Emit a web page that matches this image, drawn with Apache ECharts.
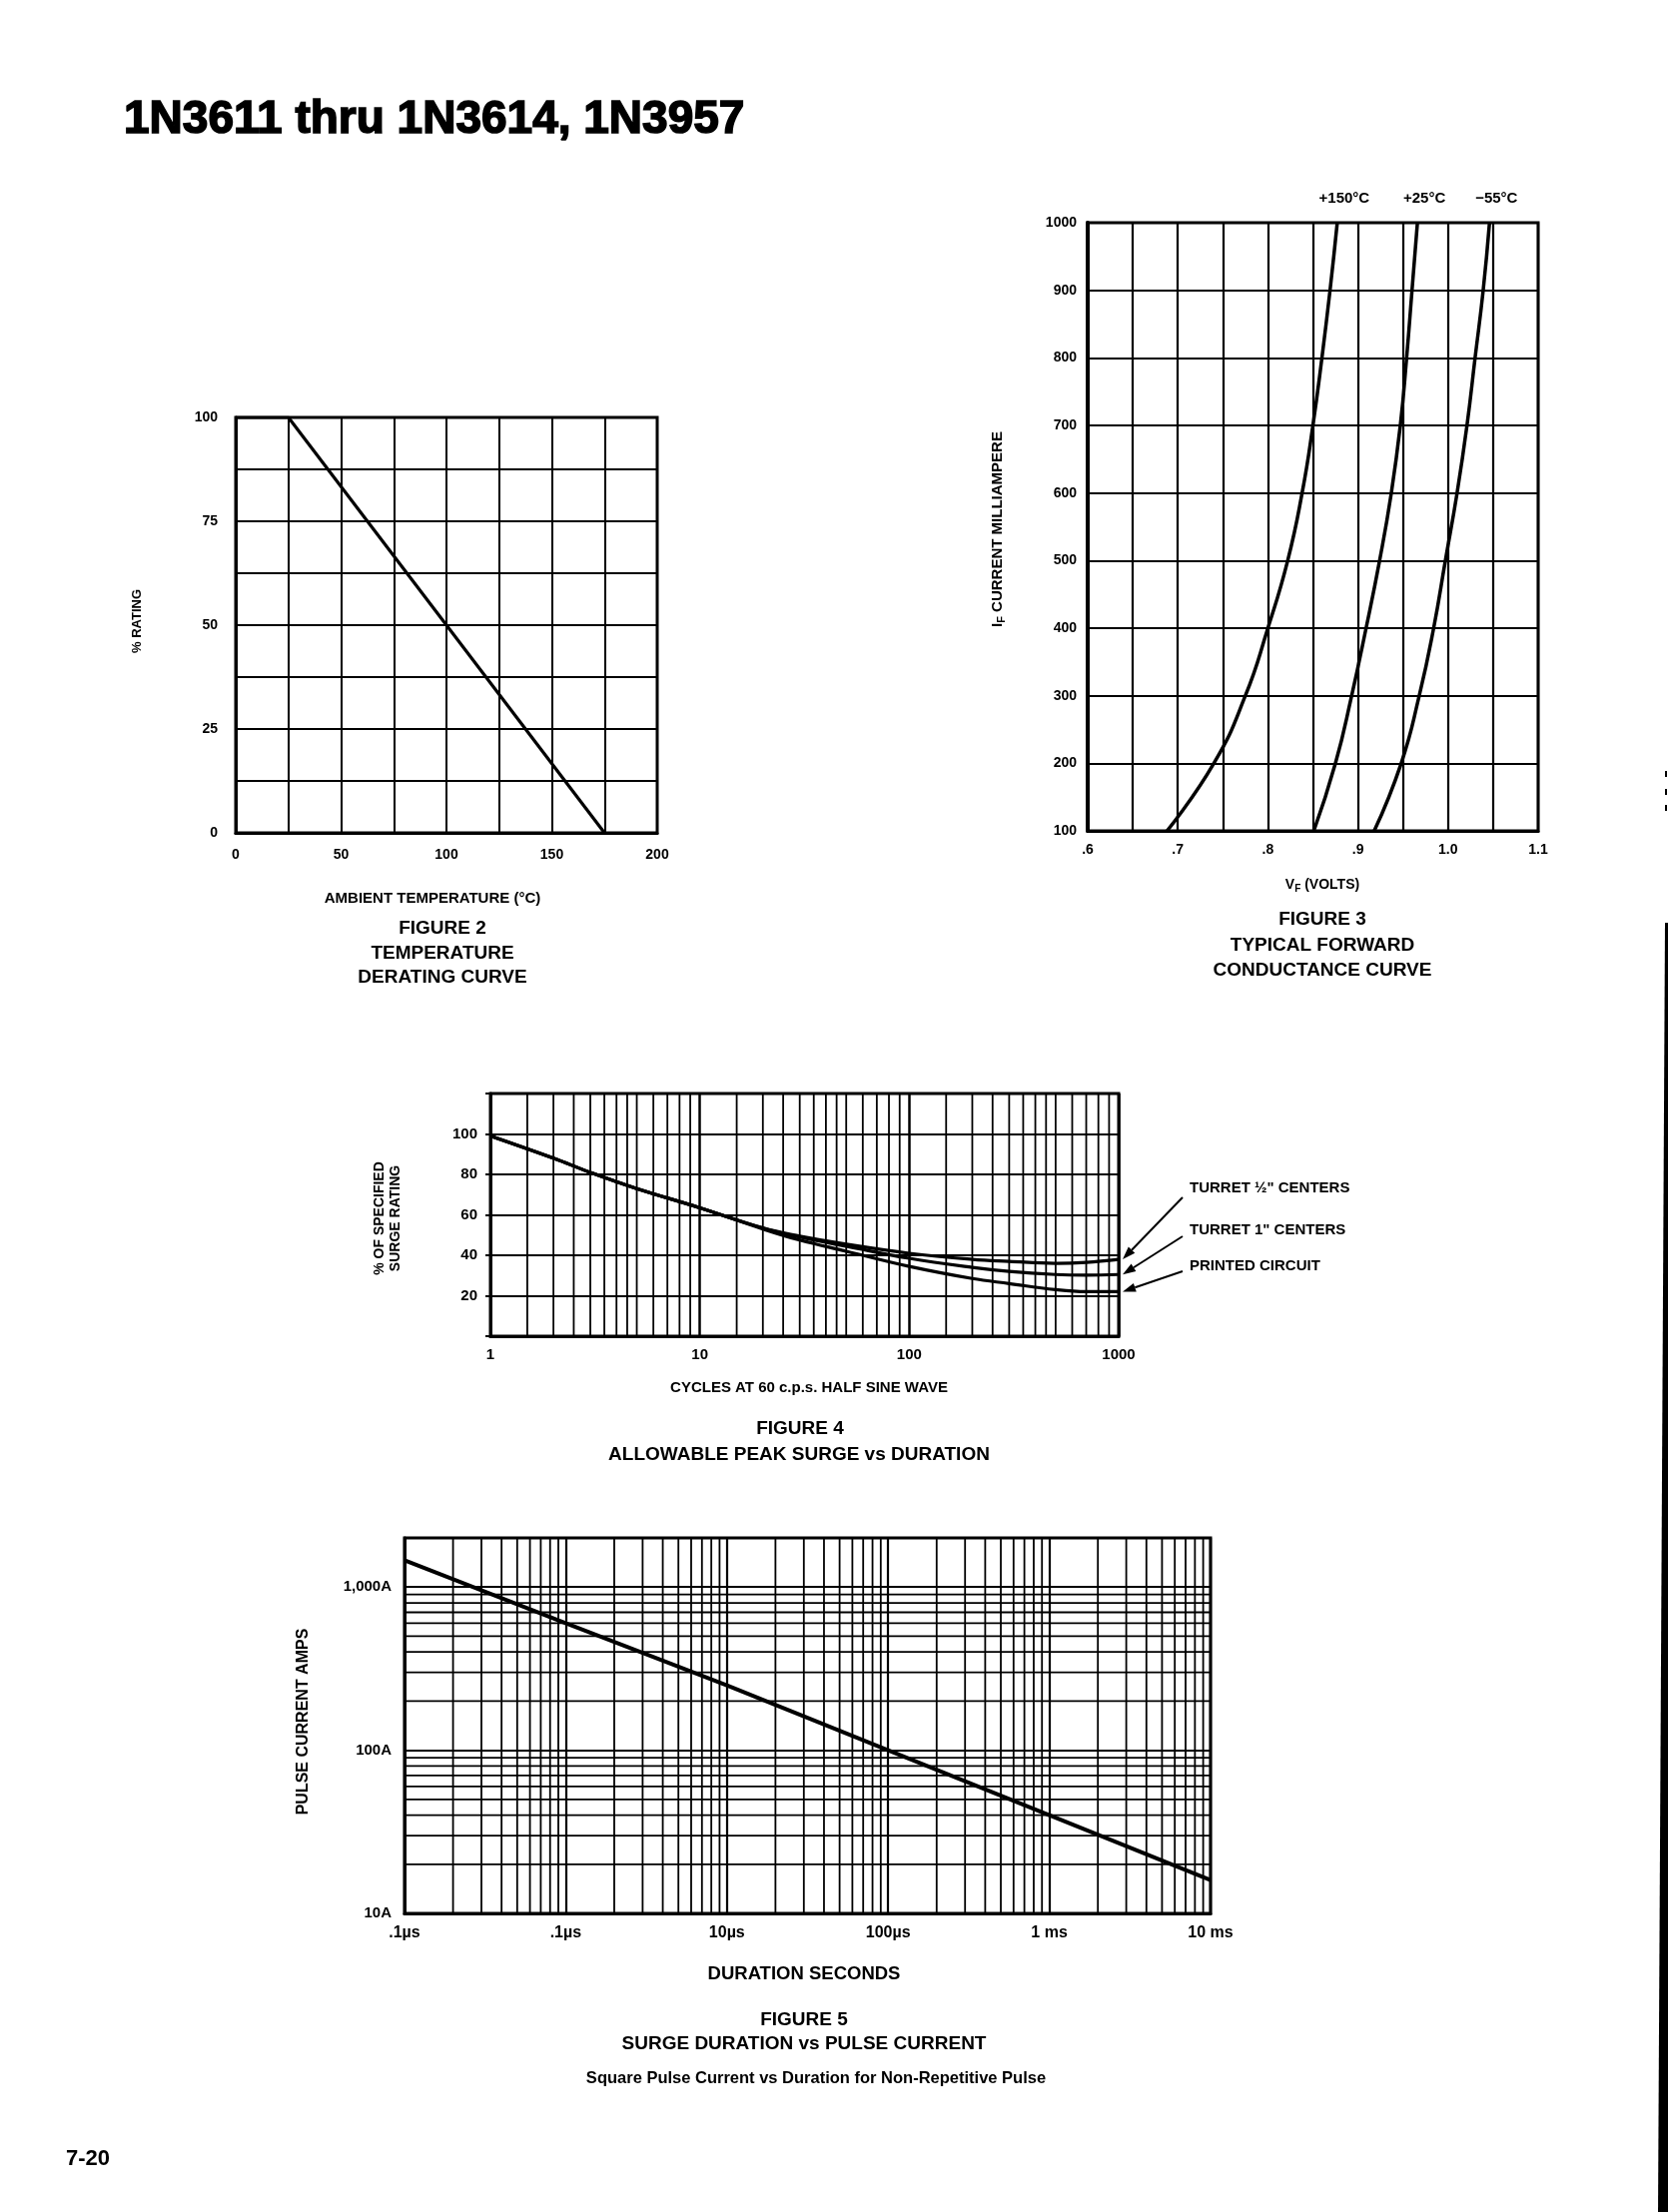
<!DOCTYPE html>
<html><head><meta charset="utf-8">
<script src="https://cdn.jsdelivr.net/npm/echarts@6/dist/echarts.min.js"></script>
<style>html,body{margin:0;padding:0;background:#fff;}#c{width:1670px;height:2215px;}</style>
</head><body><div id="c"></div>
<script>
// ---------------- DATA ----------------
// Figure 2 – temperature derating
const fig2Temp = [0, 25, 175];
const fig2Rating = [100, 100, 0];
const fig2XTicks = [0, 50, 100, 150, 200];
const fig2YTicks = [0, 25, 50, 75, 100];

// Figure 3 – forward conductance (I_F mA vs V_F volts)
const fig3Current = [100, 200, 300, 400, 500, 600, 700, 800, 900, 1000];
const fig3Vf150 = [0.688, 0.740, 0.775, 0.800, 0.822, 0.838, 0.850, 0.860, 0.869, 0.877];
const fig3Vf25  = [0.851, 0.875, 0.893, 0.909, 0.924, 0.937, 0.947, 0.954, 0.960, 0.966];
const fig3VfM55 = [0.918, 0.948, 0.968, 0.984, 0.997, 1.010, 1.021, 1.030, 1.039, 1.046];
const fig3Names = ['+150°C', '+25°C', '\u221255°C'];
const fig3XTicks = [0.6, 0.7, 0.8, 0.9, 1.0, 1.1];
const fig3XTickLabels = ['.6', '.7', '.8', '.9', '1.0', '1.1'];
const fig3YTicks = [100, 200, 300, 400, 500, 600, 700, 800, 900, 1000];

// Figure 4 – allowable peak surge vs duration
const fig4Cycles      = [1, 2, 3, 5, 10, 20, 30, 50, 100, 200, 300, 500, 700, 1000];
const fig4TurretHalf  = [99, 88, 81, 73, 63.5, 53.5, 49.5, 45.5, 41, 38, 37, 36, 36.5, 38];
const fig4TurretOne   = [99, 88, 81, 73, 63.5, 53.5, 49, 44.5, 38.5, 34, 32, 30.5, 30.2, 30.5];
const fig4Printed     = [99, 88, 81, 73, 63.5, 53, 47.5, 42, 34.5, 28.5, 26, 23, 22, 22];
const fig4Names = ['TURRET \u00BD" CENTERS', 'TURRET 1" CENTERS', 'PRINTED CIRCUIT'];
const fig4XTicks = [1, 10, 100, 1000];
const fig4YTicks = [20, 40, 60, 80, 100];
const fig4XRange = [1, 1000];
const fig4YRange = [0, 120];
const fig4MinorMult = [1.5, 2, 2.5, 3, 3.5, 4, 4.5, 5, 6, 7, 8, 9];
const fig4Decades = [1, 10, 100];

// Figure 5 – surge duration vs pulse current
const fig5Duration = [1e-7, 1e-6, 1e-5, 1e-4, 1e-3, 1e-2];
const fig5Current  = [1460, 600, 250, 100, 40, 16];
const fig5XTicks = [1e-7, 1e-6, 1e-5, 1e-4, 1e-3, 1e-2];
const fig5XTickLabels = ['.1\u00B5s', '.1\u00B5s', '10\u00B5s', '100\u00B5s', '1 ms', '10 ms'];
const fig5YTicks = [10, 100, 1000];
const fig5YTickLabels = ['10A', '100A', '1,000A'];
const fig5XRange = [1e-7, 1e-2];
const fig5YRange = [10, 2000];
const fig5MinorMult = [2, 3, 4, 5, 6, 7, 8, 9];
const fig5XDecades = [1e-7, 1e-6, 1e-5, 1e-4, 1e-3];
const fig5YDecades = [10, 100];

// ---------------- HELPERS ----------------
const FONT = '"Liberation Sans", Arial, Helvetica, sans-serif';
const BLACK = '#000';
const zip = (xs, ys) => xs.map((x, i) => [x, ys[i]]);
const near = (a, b) => Math.abs(a - b) < 1e-6 * Math.max(1, Math.abs(b));
const logNear = (a, b) => Math.abs(Math.log10(a) - Math.log10(b)) < 1e-6;
const pickLabel = (ticks, labels, cmp) => v => {
  for (let i = 0; i < ticks.length; i++) if (cmp(v, ticks[i])) return labels ? labels[i] : String(ticks[i]);
  return '';
};
const axisLine = w => ({show: true, lineStyle: {color: BLACK, width: w}});
const split = w => ({show: true, lineStyle: {color: BLACK, width: w, type: 'solid'}});
const lab = (size, margin, fmt) => ({show: true, color: BLACK, fontSize: size, fontWeight: 'bold',
  fontFamily: FONT, margin: margin, formatter: fmt, showMinLabel: true, showMaxLabel: true, hideOverlap: false});
const noTick = {show: false};
const gridBox = (l, t, w, h) => ({left: l, top: t, width: w, height: h, show: true,
  borderColor: BLACK, borderWidth: 3, backgroundColor: 'rgba(0,0,0,0)', containLabel: false});
const lineSeries = (xi, data, w, smooth, extra) => Object.assign({
  type: 'line', xAxisIndex: xi, yAxisIndex: xi, data: data, symbol: 'none', smooth: smooth,
  lineStyle: {color: BLACK, width: w}, itemStyle: {color: BLACK}, silent: true,
  emphasis: {disabled: true}, animation: false, clip: true, z: 5
}, extra || {});
// minor (log-paper) grid lines, drawn as two-point series through the axes' own scales
const minorValues = (mults, decades) => {
  const out = [];
  decades.forEach(d => mults.forEach(m => out.push(m * d)));
  return out;
};
const vLines = (xi, values, yRange, w) => values.map(v =>
  lineSeries(xi, [[v, yRange[0]], [v, yRange[1]]], w, false, {z: 1}));
const hLines = (xi, values, xRange, w) => values.map(v =>
  lineSeries(xi, [[xRange[0], v], [xRange[1], v]], w, false, {z: 1}));

// ---------------- OPTION ----------------
const option = {
  animation: false,
  backgroundColor: '#fff',
  grid: [
    gridBox(236, 418, 422, 416),
    gridBox(1089, 223, 451, 609),
    gridBox(491, 1095, 629, 243),
    gridBox(405, 1540, 807, 376)
  ],
  xAxis: [
    {gridIndex: 0, type: 'value', min: 0, max: 200, interval: 25, axisLine: axisLine(3), axisTick: noTick,
     splitLine: split(2), axisLabel: lab(14, 15, pickLabel(fig2XTicks, null, near))},
    {gridIndex: 1, type: 'value', min: 0.6, max: 1.1, interval: 0.05, axisLine: axisLine(3), axisTick: noTick,
     splitLine: split(2.2), axisLabel: lab(14, 12, pickLabel(fig3XTicks, fig3XTickLabels, near))},
    {gridIndex: 2, type: 'log', logBase: 10, min: fig4XRange[0], max: fig4XRange[1], axisLine: axisLine(3), axisTick: noTick,
     splitLine: split(2.5), axisLabel: lab(15, 11, pickLabel(fig4XTicks, null, logNear))},
    {gridIndex: 3, type: 'log', logBase: 10, min: fig5XRange[0], max: fig5XRange[1], axisLine: axisLine(3), axisTick: noTick,
     splitLine: split(2.2), axisLabel: lab(16, 12, pickLabel(fig5XTicks, fig5XTickLabels, logNear))}
  ],
  yAxis: [
    {gridIndex: 0, type: 'value', min: 0, max: 100, interval: 12.5, axisLine: axisLine(3), axisTick: noTick,
     splitLine: split(2), axisLabel: lab(14, 18, pickLabel(fig2YTicks, null, near))},
    {gridIndex: 1, type: 'value', min: 100, max: 1000, interval: 100, axisLine: axisLine(4), axisTick: noTick,
     splitLine: split(2.2), axisLabel: lab(14, 11, pickLabel(fig3YTicks, null, near))},
    {gridIndex: 2, type: 'value', min: fig4YRange[0], max: fig4YRange[1], interval: 20, axisLine: axisLine(3),
     axisTick: {show: true, length: 5, lineStyle: {color: BLACK, width: 2}},
     splitLine: split(2.2), axisLabel: lab(15, 13, pickLabel(fig4YTicks, null, near))},
    {gridIndex: 3, type: 'log', logBase: 10, min: fig5YRange[0], max: fig5YRange[1], axisLine: axisLine(3), axisTick: noTick,
     splitLine: split(2.2), axisLabel: lab(15, 13, pickLabel(fig5YTicks, fig5YTickLabels, logNear))}
  ],
  series: [
    lineSeries(0, zip(fig2Temp, fig2Rating), 3.2, false),
    lineSeries(1, zip(fig3Vf150, fig3Current), 3.5, true, {name: fig3Names[0]}),
    lineSeries(1, zip(fig3Vf25, fig3Current), 3.5, true, {name: fig3Names[1]}),
    lineSeries(1, zip(fig3VfM55, fig3Current), 3.5, true, {name: fig3Names[2]}),
    lineSeries(2, zip(fig4Cycles, fig4TurretHalf), 3.2, 0.4, {name: fig4Names[0]}),
    lineSeries(2, zip(fig4Cycles, fig4TurretOne), 3.2, 0.4, {name: fig4Names[1]}),
    lineSeries(2, zip(fig4Cycles, fig4Printed), 3.2, 0.4, {name: fig4Names[2]}),
    lineSeries(3, zip(fig5Duration, fig5Current), 4, false)
  ]
    .concat(vLines(2, minorValues(fig4MinorMult, fig4Decades), fig4YRange, 1.8))
    .concat(vLines(3, minorValues(fig5MinorMult, fig5XDecades), fig5YRange, 1.8))
    .concat(hLines(3, minorValues(fig5MinorMult, fig5YDecades), fig5XRange, 1.8))
};

const chart = echarts.init(document.getElementById('c'), null, {renderer: 'canvas', width: 1670, height: 2215});
chart.setOption(option);

// ---------------- TEXT & ANNOTATIONS ----------------
function T(x, y, text, size, o) {
  o = o || {};
  const align = o.align || 'center';
  const el = {type: 'text', x: x, y: y, rotation: o.rot || 0, silent: true, z: 20,
    style: {text: text, fill: BLACK, font: (o.weight || 'bold') + ' ' + size + 'px ' + FONT,
      align: align, verticalAlign: 'middle', textAlign: align, textVerticalAlign: 'middle'}};
  if (o.lh) el.style.lineHeight = o.lh;
  if (o.rich) el.style.rich = o.rich;
  if (o.stroke) { el.style.stroke = BLACK; el.style.lineWidth = o.stroke; }
  return el;
}
function arrow(x1, y1, x2, y2) {
  const a = Math.atan2(y2 - y1, x2 - x1), L = 13, W = 4.5;
  const bx = x2 - L * Math.cos(a), by = y2 - L * Math.sin(a);
  return [
    {type: 'line', silent: true, z: 20, shape: {x1: x1, y1: y1, x2: bx, y2: by}, style: {stroke: BLACK, lineWidth: 2}},
    {type: 'polygon', silent: true, z: 20, shape: {points: [[x2, y2],
      [bx + W * Math.sin(a), by - W * Math.cos(a)], [bx - W * Math.sin(a), by + W * Math.cos(a)]]},
      style: {fill: BLACK}}
  ];
}
const subRich = (big) => ({
  a: {fontSize: big, fontWeight: 'bold', fontFamily: FONT, lineHeight: big + 4},
  b: {fontSize: big - 4, fontWeight: 'bold', fontFamily: FONT, lineHeight: big - 4, verticalAlign: 'bottom'}
});

const els = [];
// page title
els.push(T(124, 120, '1N3611 thru 1N3614, 1N3957', 46, {align: 'left', stroke: 1.6}));
// Figure 2
els.push(T(137, 622, '% RATING', 13, {rot: Math.PI / 2}));
els.push(T(433, 900, 'AMBIENT TEMPERATURE (°C)', 15));
els.push(T(443, 930, 'FIGURE 2', 19));
els.push(T(443, 955, 'TEMPERATURE', 19));
els.push(T(443, 979, 'DERATING CURVE', 19));
// Figure 3
els.push(T(999, 530, '{a|I}{b|F}{a| CURRENT MILLIAMPERE}', 15, {rot: Math.PI / 2, rich: subRich(15)}));
els.push(T(1324, 886, '{a|V}{b|F}{a| (VOLTS)}', 14, {rich: subRich(14)}));
els.push(T(1324, 921, 'FIGURE 3', 19));
els.push(T(1324, 947, 'TYPICAL FORWARD', 19));
els.push(T(1324, 972, 'CONDUCTANCE CURVE', 19));
[fig3Vf150, fig3Vf25, fig3VfM55].forEach((vf, i) => {
  const p = chart.convertToPixel({xAxisIndex: 1, yAxisIndex: 1}, [vf[vf.length - 1], fig3Current[fig3Current.length - 1]]);
  els.push(T(p[0] + 7, p[1] - 24, fig3Names[i], 15));
});
// Figure 4
els.push(T(388, 1220, '% OF SPECIFIED\nSURGE RATING', 14, {rot: Math.PI / 2, lh: 16}));
els.push(T(810, 1390, 'CYCLES AT 60 c.p.s. HALF SINE WAVE', 15));
els.push(T(801, 1431, 'FIGURE 4', 19));
els.push(T(800, 1457, 'ALLOWABLE PEAK SURGE vs DURATION', 19));
const fig4LabelY = [1190, 1232, 1268];
const fig4ArrowDy = [9, 6, 5];
[fig4TurretHalf, fig4TurretOne, fig4Printed].forEach((vals, i) => {
  els.push(T(1191, fig4LabelY[i], fig4Names[i], 15, {align: 'left'}));
  const p = chart.convertToPixel({xAxisIndex: 2, yAxisIndex: 2}, [fig4Cycles[fig4Cycles.length - 1], vals[vals.length - 1]]);
  arrow(1184, fig4LabelY[i] + fig4ArrowDy[i], p[0] + 4, p[1]).forEach(e => els.push(e));
});
// Figure 5
els.push(T(304, 1724, 'PULSE CURRENT AMPS', 16, {rot: Math.PI / 2}));
els.push(T(805, 1977, 'DURATION SECONDS', 18.5));
els.push(T(805, 2023, 'FIGURE 5', 19));
els.push(T(805, 2047, 'SURGE DURATION vs PULSE CURRENT', 19));
els.push(T(817, 2081, 'Square Pulse Current vs Duration for Non-Repetitive Pulse', 16.5));
// page number
els.push(T(66, 2162, '7-20', 22, {align: 'left'}));
// scan edge at right margin
els.push({type: 'polygon', silent: true, z: 20, shape: {points: [[1667, 924], [1670, 924], [1670, 2215], [1660, 2215]]}, style: {fill: BLACK}});
els.push({type: 'rect', silent: true, z: 20, shape: {x: 1667, y: 772, width: 2, height: 6}, style: {fill: BLACK}});
els.push({type: 'rect', silent: true, z: 20, shape: {x: 1667, y: 790, width: 2, height: 6}, style: {fill: BLACK}});
els.push({type: 'rect', silent: true, z: 20, shape: {x: 1667, y: 806, width: 2, height: 6}, style: {fill: BLACK}});

chart.setOption({graphic: {elements: els}});
</script>
</body></html>
